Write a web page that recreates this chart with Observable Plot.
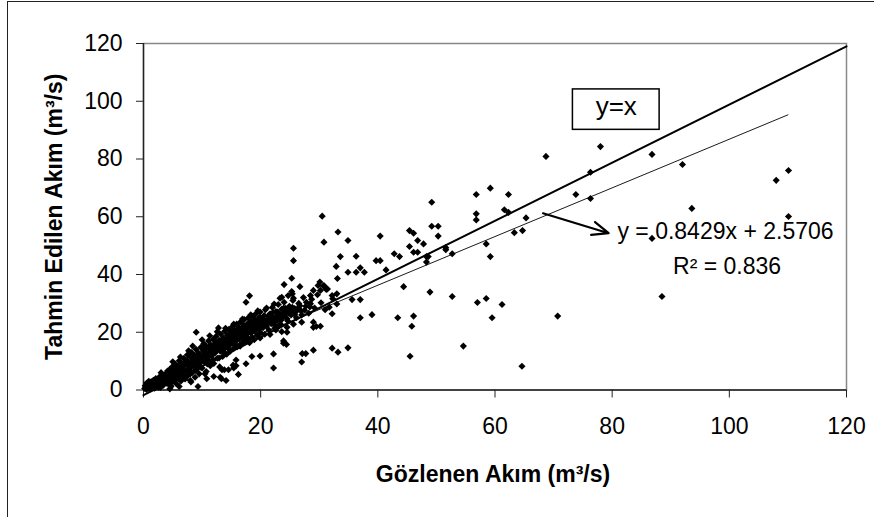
<!DOCTYPE html>
<html>
<head>
<meta charset="utf-8">
<script src="https://cdn.jsdelivr.net/npm/d3@7"></script>
<script src="https://cdn.jsdelivr.net/npm/@observablehq/plot@0.6"></script>
<style>
  body { margin: 0; background: #fff; }
  #wrap { position: relative; width: 874px; height: 517px; overflow: hidden; background: #fff; }
  #border { position: absolute; left: 7px; top: 1px; width: 900px; height: 600px;
            border-left: 1.5px solid #222; border-top: 1.5px solid #222; }
  #wrap svg { position: absolute; left: 0; top: 0; }
</style>
</head>
<body>
<div id="wrap"><div id="border"></div></div>
<script>
// Observed (x) vs estimated (y) discharge, m³/s

// Dense cluster of low flows
const lowFlows = [
  [0.2,0.5],[0.3,1.5],[0.5,0.2],[0.6,2.4],[0.8,1.1],[0.9,3.0],[1.0,0.4],[1.1,1.9],[1.3,2.8],[1.4,0.9],
  [1.6,1.5],[1.7,3.4],[1.9,0.6],[2.0,2.2],[2.1,4.0],[2.3,1.3],[2.4,3.1],[2.6,2.0],[2.7,4.5],[2.9,0.9],
  [3.0,3.5],[3.1,2.6],[3.3,5.2],[3.4,1.7],[3.6,4.1],[3.7,3.0],[3.9,5.8],[4.0,2.3],[4.1,6.6],[4.2,4.6],
  [4.4,3.5],[4.5,7.2],[4.6,1.5],[4.7,5.4],[4.9,8.0],[5.0,3.0],[5.1,6.3],[5.2,4.4],[5.4,9.0],[5.5,7.1],
  [5.6,2.2],[5.7,5.6],[5.9,8.2],[6.0,4.0],[6.1,10.1],[6.2,6.5],[6.4,3.1],[6.5,9.3],[6.6,7.6],[6.8,5.2],
  [6.9,11.0],[7.0,8.6],[7.1,3.8],[7.3,6.8],[7.4,10.2],[7.5,12.2],[7.6,5.0],[7.8,9.0],[7.9,7.5],[8.0,11.4],
  [8.1,2.8],[8.2,13.0],[8.3,6.0],[8.5,9.8],[8.6,8.3],[8.7,12.0],[8.8,4.4],[9.0,14.0],[9.1,7.2],[9.2,10.6],
  [9.4,12.8],[9.5,5.6],[9.6,9.2],[9.8,14.8],[9.9,11.4],[10.0,7.6],[10.2,13.5],[10.3,16.0],[10.4,9.8],[10.6,12.0],
  [10.7,6.4],[10.8,15.0],[11.0,10.6],[11.1,17.0],[11.2,13.2],[11.4,8.4],[11.5,15.6],[11.6,11.8],[11.8,14.2],[11.9,17.6],
  [12.0,9.2],[12.2,12.8],[12.3,16.4],[12.4,18.6],[12.6,11.0],[12.7,14.8],[12.9,17.2],[13.0,8.0],[13.1,13.4],[13.2,19.4],
  [13.4,15.8],[13.5,11.6],[13.6,18.0],[13.8,14.2],[13.9,20.4],[14.0,16.8],[14.2,12.4],[14.3,19.0],[14.4,15.2],[14.6,21.0],
  [14.7,17.6],[14.8,13.4],[15.0,19.8],[15.1,16.2],[15.2,22.0],[15.4,14.4],[15.5,18.4],[15.6,20.8],[15.8,17.0],[15.9,22.8],
  [16.0,15.0],[16.2,19.6],[16.3,21.6],[16.4,17.8],[16.6,23.6],[16.7,16.0],[16.8,20.4],[17.0,18.6],[17.1,22.4],[17.2,24.4],
  [17.4,16.8],[17.5,20.8],[17.6,19.2],[17.8,23.0],[17.9,25.0],[18.0,17.6],[18.2,21.2],[18.3,19.8],[18.4,23.8],[18.6,18.2],
  [18.7,25.6],[18.8,21.8],[19.0,20.4],[19.1,24.2],[19.2,26.4],[19.4,19.0],[19.5,22.6],[19.6,21.2],[19.8,25.2],[19.9,27.0],
  [20.0,19.8],[20.2,23.4],[20.4,21.6],[20.6,25.8],[20.8,27.8],[21.0,22.2],[21.2,24.4],[21.4,20.8],[21.6,26.4],[21.8,23.0],
  [22.0,28.6],[22.2,25.0],[22.4,21.4],[22.6,27.2],[22.8,24.0],[23.0,29.6],[23.2,26.0],[23.4,22.8],[23.6,28.0],[23.8,25.2],
  [24.0,30.4],[24.3,27.2],[24.6,24.0],[24.9,29.0],[25.2,26.0],[25.5,31.0],[25.8,28.2],[26.1,25.0],[26.5,30.0],[26.9,27.4],
  [27.3,32.0],[27.7,29.0],[28.2,26.6],[28.7,31.4],[29.2,28.4],[29.7,33.0],[30.3,30.2],[31.0,27.8],
  [0.4,1.0],[0.7,0.6],[1.2,1.2],[1.5,2.4],[1.8,2.0],[2.2,3.0],[2.5,1.0],[2.8,2.8],[3.2,3.9],[3.5,2.9],
  [3.8,4.7],[4.3,5.3],[4.8,4.0],[5.3,5.7],[5.8,7.0],[6.3,5.3],[6.7,8.6],[7.2,9.4],[7.7,7.1],[8.4,10.8],
  [8.9,9.2],[9.3,11.6],[9.7,10.3],[10.1,11.8],[10.5,14.1],[10.9,12.3],[11.3,14.5],[11.7,13.0],[12.1,15.3],[12.5,13.7],
  [12.8,16.1],[13.3,14.6],[13.7,16.9],[14.1,15.8],[14.5,18.3],[14.9,16.9],[15.3,19.1],[15.7,18.0],[16.1,20.6],[16.5,19.1],
  [16.9,21.4],[17.3,20.0],[17.7,22.1],[18.1,20.6],[18.5,22.9],[18.9,23.2],[19.3,21.9],[19.7,23.9],[20.1,22.5],[20.5,24.6],
  [20.9,23.4],[21.3,25.6],[21.7,24.2],[22.1,26.8],[22.5,23.8],[22.9,27.0],[23.3,25.0],[23.7,26.6],[24.2,28.3],[24.8,26.6],
  [25.4,28.6],[26.0,27.1],[26.7,29.2],[27.5,27.6],
  [5.6,3.8],[6.9,4.6],[8.0,5.6],[8.9,6.8],[9.8,7.9],[10.9,9.0],[11.9,10.4],[12.9,11.1],[13.8,12.7],[14.7,14.0],
  [15.6,15.6],[16.5,15.2],[17.2,17.2],[18.1,16.4],[18.9,17.4],[19.9,18.0],[20.7,19.3],[21.6,19.2],[22.6,20.8],[23.1,22.1],
  [3.0,6.0],[5.0,9.8],[6.3,11.4],[7.7,13.6],[8.4,15.2],[10.0,17.4],[11.3,18.8],[12.6,20.2],[14.0,21.4],[15.4,22.8],
  [16.9,24.6],[18.3,26.0],[19.5,27.4],[21.0,28.4],
  [1.0,2.6],[1.6,3.0],[2.0,1.0],[2.5,3.6],[3.0,1.8],[3.4,4.6],[3.9,3.4],[4.4,6.0],[4.9,5.0],[5.4,6.6],
  [5.9,5.2],[6.4,7.9],[6.9,6.4],[7.3,9.8],[7.8,8.1],[8.2,9.5],[8.7,10.8],[9.1,8.6],[9.5,12.0],[10.0,10.8],
  [10.4,12.9],[10.8,11.2],[11.3,12.4],[11.7,15.2],[12.2,13.8],[12.6,16.4],[13.0,14.9],[13.5,17.2],[13.9,15.2],[14.3,17.6],
  [14.7,16.1],[15.1,18.2],[15.5,16.6],[15.9,19.8],[16.4,18.6],[16.8,19.4],[17.2,21.6],[17.7,18.3],[18.1,22.5],[18.6,20.2],
  [19.0,22.6],[19.4,23.8],[19.9,21.4],[20.3,24.0],[20.7,22.8],[21.2,23.4],[21.8,25.4],[22.3,22.6],[22.8,25.8],[23.5,24.2],
  [24.1,26.0],[24.6,27.6],[25.2,27.4],[25.8,26.2],[26.4,28.4],[27.0,26.0],[27.8,30.4],[28.4,28.8]
];

// Scattered points above the cluster
const highEstimates = [
  [24.0,36.5],[26.7,35.8],[18.1,32.6],[17.5,30.4],[9.0,20.0],[22.3,29.8],[23.3,31.8],[24.7,32.7],[25.6,31.8],[25.3,34.1],
  [29.8,36.2],[30.7,36.0],[31.2,34.8],[30.1,37.4],[32.2,32.7],[33.0,33.3],[28.5,32.7],[28.5,29.9],[29.0,34.5],[30.2,34.5],
  [12.8,21.5],[25.6,49.1],[25.6,44.8],[25.3,38.7],[23.9,28.3],[23.6,32.1],[25.4,33.3],[33.0,29.8],[31.7,28.7],[32.3,31.6]
];

// Scattered points below the cluster
const lowEstimates = [
  [29.0,23.5],[29.0,21.7],[30.2,22.1],[29.5,22.0],[32.2,26.4],[32.2,14.5],[33.2,13.1],[34.9,14.6],[29.0,13.8],[27.1,12.6],
  [27.7,12.6],[27.0,9.7],[22.2,12.5],[22.2,7.6],[19.9,11.8],[18.5,11.6],[24.5,24.7],[24.5,21.7],[23.6,20.2],[24.5,20.0],
  [23.9,17.0],[23.9,16.2],[24.4,15.8],[25.6,22.8],[27.0,23.5],[17.5,9.1],[15.8,10.4],[16.2,5.4],[15.4,7.6],[15.3,8.6],
  [15.8,8.4],[14.5,7.0],[14.1,3.3],[13.1,4.4],[12.0,4.7],[13.3,3.9],[13.4,7.0],[13.8,7.0],[11.7,9.6],[9.3,1.2],
  [10.5,5.6],[10.8,3.9],[8.0,3.3],[6.1,1.2],[4.7,1.2],[4.5,0.4]
];

// Medium and high flows
const highFlows = [
  [30.5,60.2],[33.2,54.7],[34.9,51.8],[30.8,51.2],[40.4,53.3],[45.4,55.2],[46.1,54.3],[49.2,56.7],[50.3,56.7],[50.3,53.3],
  [46.8,51.8],[45.4,49.7],[46.1,47.7],[46.8,47.7],[47.8,50.6],[48.3,46.2],[48.6,46.2],[48.3,44.3],[42.8,47.2],[43.7,46.2],
  [39.7,44.8],[40.4,44.8],[41.4,41.6],[36.3,46.3],[33.6,46.2],[32.9,42.8],[34.9,40.8],[36.3,40.8],[37.0,42.3],[37.7,40.8],
  [33.1,38.6],[30.8,36.2],[31.4,35.0],[35.6,31.3],[37.0,31.3],[37.0,25.0],[39.0,26.1],[43.4,25.0],[46.1,25.6],[45.8,22.1],
  [44.4,35.8],[48.9,33.9],[45.5,11.7],[49.2,65.0],
  [78.0,84.3],[68.7,80.9],[86.8,81.6],[92.0,78.1],[76.3,75.4],[110.1,76.0],[108.0,72.6],[73.8,67.7],[76.3,66.3],[93.6,62.9],
  [110.1,60.1],[86.8,52.5],[88.5,32.4],[56.8,67.7],[59.2,69.9],[62.3,67.7],[56.8,61.0],[56.8,58.9],[61.6,62.4],[62.3,61.5],
  [65.3,59.6],[63.3,54.5],[64.7,55.2],[58.5,50.6],[59.2,46.2],[51.6,49.3],[51.6,48.6],[52.7,47.2],[52.7,32.4],[57.0,30.3],
  [58.5,31.7],[61.2,29.6],[59.5,25.0],[70.7,25.6],[54.6,15.2],[64.6,8.2]
];

const points = [...lowFlows, ...highEstimates, ...lowEstimates, ...highFlows];

// Axis ticks
const xTicks = [0, 20, 40, 60, 80, 100, 120];
const yTicks = [0, 20, 40, 60, 80, 100, 120];

// Fitted trend line
const slope = 0.8429;
const intercept = 2.5706;
const rSquared = 0.836;
const trendX = [0, 110];

// Reference line labelled y=x
const refX = [0, 120];
const refY = [-1.8, 119];

// Annotation geometry (data units)
const arrowSpan = [{x1: 68.2, y1: 61.2, x2: 79.4, y2: 54.3}];
const refLabelBox = [{x1: 73.3, x2: 88.1, y1: 90.1, y2: 104.1}];

const font = "'Liberation Sans', Arial, Helvetica, sans-serif";

const chart = Plot.plot({
  width: 874,
  height: 517,
  marginLeft: 143,
  marginRight: 28,
  marginTop: 43,
  marginBottom: 127.5,
  style: {fontFamily: font, fontSize: "23px", color: "#000", background: "transparent", overflow: "visible"},
  x: {domain: [0, 120], label: null},
  y: {domain: [0, 120], label: null},
  marks: [
    Plot.frame({stroke: "#888", strokeWidth: 1.5}),
    Plot.ruleX([0], {stroke: "#222", strokeWidth: 1.4}),
    Plot.ruleY([0], {stroke: "#222", strokeWidth: 1.4}),
    Plot.axisX({ticks: xTicks, tickSize: 8, tickPadding: 20, label: null, stroke: "#222"}),
    Plot.axisY({ticks: yTicks, tickSize: 7, tickPadding: 14, label: null, stroke: "#222"}),
    Plot.dot(points, {x: d => d[0], y: d => d[1], symbol: "diamond2", r: 3.2, fill: "#000", stroke: "none"}),
    Plot.line(refX.map((x, i) => ({x, y: refY[i]})), {x: "x", y: "y", stroke: "#000", strokeWidth: 2}),
    Plot.line(trendX.map(x => ({x, y: slope * x + intercept})), {x: "x", y: "y", stroke: "#000", strokeWidth: 0.9}),
    Plot.arrow(arrowSpan, {x1: "x1", y1: "y1", x2: "x2", y2: "y2", stroke: "#000", strokeWidth: 2.2, headLength: 12, headAngle: 45}),
    Plot.rect(refLabelBox, {x1: "x1", x2: "x2", y1: "y1", y2: "y2", fill: "#fff", stroke: "#000", strokeWidth: 1.5}),
    Plot.text(["y=x"], {x: 80.7, y: 98, fontSize: 26, textAnchor: "middle", lineAnchor: "middle"}),
    Plot.text([`y = ${slope}x + ${intercept}`], {x: 80.9, y: 55.0, textAnchor: "start", lineAnchor: "middle"}),
    Plot.text([`R² = ${rSquared}`], {x: 90.4, y: 42.9, textAnchor: "start", lineAnchor: "middle"}),
    Plot.text(["Gözlenen Akım (m³/s)"], {frameAnchor: "bottom", textAnchor: "middle", lineAnchor: "middle", dy: 85, dx: -2, fontWeight: "bold"}),
    Plot.text(["Tahmin Edilen Akım (m³/s)"], {frameAnchor: "left", textAnchor: "middle", lineAnchor: "middle", rotate: -90, dx: -88.7, fontWeight: "bold"})
  ]
});

document.getElementById("wrap").append(chart);
</script>
</body>
</html>
